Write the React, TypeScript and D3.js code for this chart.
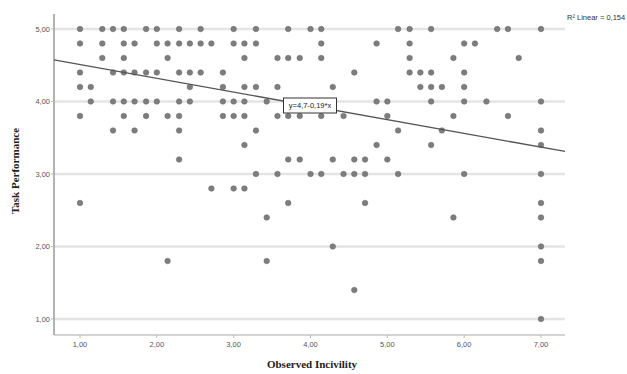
import React from "react";
import * as d3 from "d3";

// Task Performance levels (y) and the Observed Incivility values (x) of the cases at each level
const performanceLevels = [5.0, 4.8, 4.6, 4.4, 4.2, 4.0, 3.8, 3.6, 3.4, 3.2, 3.0, 2.8, 2.6, 2.4, 2.0, 1.8, 1.4, 1.0];
const incivilityAtLevel: number[][] = [
  [1.0, 1.29, 1.43, 1.57, 1.86, 2.0, 2.29, 2.57, 3.0, 3.29, 3.71, 4.0, 4.14, 5.14, 5.29, 5.57, 6.43, 6.57, 7.0],
  [1.0, 1.29, 1.57, 1.71, 2.0, 2.14, 2.29, 2.43, 2.57, 2.71, 3.0, 3.14, 3.29, 4.14, 4.86, 5.29, 6.0, 6.14],
  [1.29, 1.57, 2.14, 3.14, 3.57, 3.71, 3.86, 4.14, 5.29, 5.86, 6.71],
  [1.0, 1.43, 1.57, 1.71, 1.86, 2.0, 2.29, 2.43, 2.57, 2.86, 4.57, 5.29, 5.43, 5.57, 6.0],
  [1.0, 1.14, 2.43, 2.86, 3.14, 3.29, 3.57, 4.29, 5.43, 5.57, 5.71, 6.0],
  [1.14, 1.43, 1.57, 1.71, 1.86, 2.0, 2.29, 2.43, 2.86, 3.0, 3.14, 3.43, 4.86, 5.0, 5.57, 6.0, 6.29, 7.0],
  [1.0, 1.57, 1.86, 2.14, 2.29, 2.86, 3.0, 3.14, 3.57, 3.71, 3.86, 4.14, 4.43, 5.0, 5.86, 6.57],
  [1.43, 1.71, 2.29, 3.29, 5.14, 5.71, 7.0],
  [3.14, 4.86, 5.57, 7.0],
  [2.29, 3.71, 3.86, 4.29, 4.57, 4.71, 5.0],
  [3.29, 3.57, 4.0, 4.14, 4.43, 4.57, 4.71, 5.14, 6.0, 7.0],
  [2.71, 3.0, 3.14],
  [1.0, 3.71, 4.71, 7.0],
  [3.43, 5.86, 7.0],
  [4.29, 7.0],
  [2.14, 3.43, 7.0],
  [4.57],
  [7.0],
];

const xTicks = [1, 2, 3, 4, 5, 6, 7];
const yTicks = [1, 2, 3, 4, 5];
const fitIntercept = 4.7;
const fitSlope = -0.19;
const fitLabel = "y=4,7-0,19*x";
const r2Label = "R² Linear = 0,154";
const xTitle = "Observed Incivility";
const yTitle = "Task Performance";

const W = 627;
const H = 374;
const plotLeft = 54;
const plotRight = 565;
const plotTop = 14;
const plotBottom = 335;

export default function App() {
  const x = d3.scaleLinear().domain([1, 7]).range([80, 541]);
  const y = d3.scaleLinear().domain([1, 5]).range([319, 29]);
  const fmt = (v: number) => d3.format(".2f")(v).replace(".", ",");

  const points: { x: number; y: number }[] = [];
  performanceLevels.forEach((lvl, i) => {
    incivilityAtLevel[i].forEach((v) => points.push({ x: v, y: lvl }));
  });

  const xMin = x.invert(plotLeft);
  const xMax = x.invert(plotRight);
  const line = d3
    .line<number>()
    .x((d) => x(d))
    .y((d) => y(fitIntercept + fitSlope * d));

  const sans = "'Liberation Sans', Arial, sans-serif";
  const serif = "'Liberation Serif', 'Times New Roman', serif";

  const labelX = 310;
  const labelY = 105.5;

  return (
    <svg
      width={W}
      height={H}
      style={{ position: "absolute", left: 0, top: 0, background: "#fff" }}
    >
      <rect x={0} y={0} width={W} height={H} fill="#fff" />
      {yTicks.map((t) => (
        <line
          key={"g" + t}
          x1={plotLeft}
          x2={plotRight}
          y1={y(t)}
          y2={y(t)}
          stroke="#e4e4e4"
          strokeWidth={2.5}
        />
      ))}
      {/* x axis */}
      <line x1={plotLeft} x2={plotRight} y1={plotBottom} y2={plotBottom} stroke="#d4d4d4" strokeWidth={2} />
      {/* y axis */}
      <line x1={plotLeft} x2={plotLeft} y1={plotTop} y2={plotBottom} stroke="#9a9a9a" strokeWidth={1.5} />
      {xTicks.map((t) => (
        <g key={"x" + t}>
          <line x1={x(t)} x2={x(t)} y1={plotBottom} y2={plotBottom + 3} stroke="#bbb" strokeWidth={1} />
          <text x={x(t)} y={plotBottom + 12} textAnchor="middle" fontSize={7.5} fontFamily={sans} fill="#555">
            {fmt(t)}
          </text>
        </g>
      ))}
      {yTicks.map((t) => (
        <g key={"y" + t}>
          <line x1={plotLeft - 3} x2={plotLeft} y1={y(t)} y2={y(t)} stroke="#bbb" strokeWidth={1} />
          <text x={plotLeft - 4} y={y(t) + 2.7} textAnchor="end" fontSize={7.5} fontFamily={sans} fill="#555">
            {fmt(t)}
          </text>
        </g>
      ))}
      {points.map((p, i) => (
        <circle key={i} cx={x(p.x)} cy={y(p.y)} r={2.8} fill="#7d7d7d" stroke="#666" strokeWidth={0.5} />
      ))}
      <path d={line([xMin, xMax]) || ""} stroke="#555" strokeWidth={1.3} fill="none" />
      <rect x={labelX - 26.5} y={labelY - 7.5} width={53} height={15} fill="#fff" stroke="#333" strokeWidth={1} />
      <text x={labelX} y={labelY + 2.7} textAnchor="middle" fontSize={7.5} fontFamily={sans} fill="#222">
        {fitLabel}
      </text>
      <text x={567} y={20} fontSize={7.5} fontFamily={sans} fill="#333">
        {r2Label}
      </text>
      <text x={312} y={368} textAnchor="middle" fontSize={11} fontWeight="bold" fontFamily={serif} fill="#222">
        {xTitle}
      </text>
      <text
        transform={`translate(19,171) rotate(-90)`}
        textAnchor="middle"
        fontSize={11}
        fontWeight="bold"
        fontFamily={serif}
        fill="#222"
      >
        {yTitle}
      </text>
    </svg>
  );
}
